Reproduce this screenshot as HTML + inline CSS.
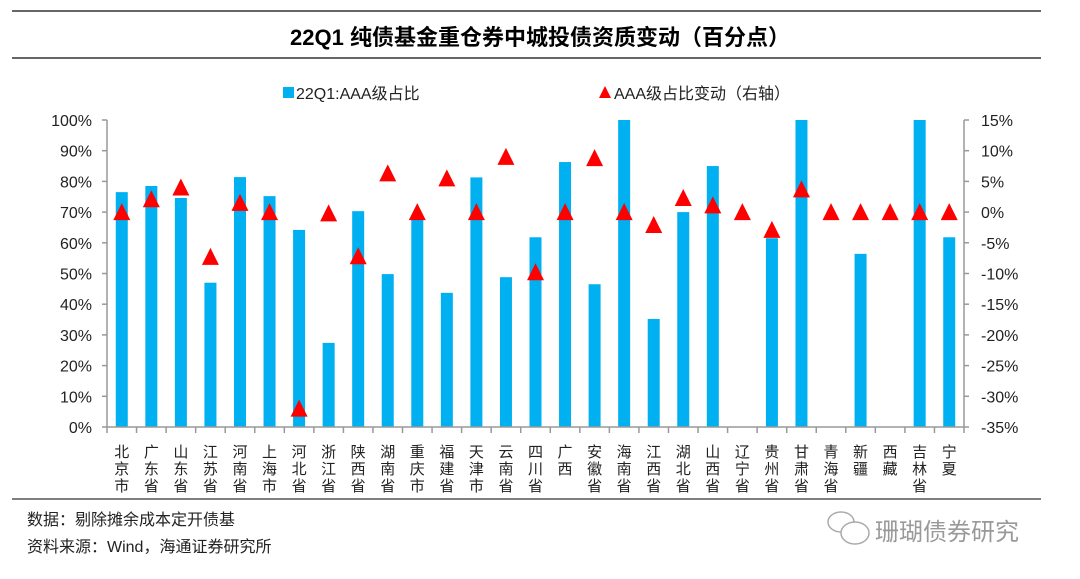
<!DOCTYPE html>
<html><head><meta charset="utf-8"><style>
html,body{margin:0;padding:0;background:#fff;}
svg{display:block;font-family:"Liberation Sans","Noto Sans CJK SC",sans-serif;}
</style></head><body>
<svg id="c" width="1080" height="579" viewBox="0 0 1080 579">
<line x1="12" y1="11" x2="1041" y2="11" stroke="#333" stroke-width="1.5"/>
<text x="540" y="45" text-anchor="middle" font-size="22" font-weight="bold" fill="#000">22Q1 纯债基金重仓券中城投债资质变动（百分点）</text>
<line x1="12" y1="58" x2="1041" y2="58" stroke="#333" stroke-width="1.5"/>
<g>
<rect x="283" y="87" width="11" height="11" fill="#00b0f0"/>
<text x="296" y="99" font-size="16" fill="#222">22Q1:AAA级占比</text>
<polygon points="605,86 611,98 599,98" fill="#ff0000"/>
<text x="614" y="99" font-size="16" fill="#222">AAA级占比变动（右轴）</text>
</g>
<g id="plot"></g>
<line x1="12" y1="499" x2="1041" y2="499" stroke="#555" stroke-width="1.5"/>
<text x="27" y="525" font-size="16" fill="#222">数据：剔除摊余成本定开债基</text>
<text x="27" y="552" font-size="16" fill="#222">资料来源：Wind，海通证券研究所</text>
<g fill="none" stroke="#aaa" stroke-width="1.5">
<ellipse cx="841" cy="522" rx="13" ry="10"/><ellipse cx="855" cy="533" rx="14" ry="11" fill="#fff"/>
</g>
<text x="875" y="540" font-size="24" fill="#999">珊瑚债券研究</text>
</svg>
<script>
const categories=["北京市","广东省","山东省","江苏省","河南省","上海市","河北省","浙江省","陕西省","湖南省","重庆市","福建省","天津市","云南省","四川省","广西","安徽省","海南省","江西省","湖北省","山西省","辽宁省","贵州省","甘肃省","青海省","新疆","西藏","吉林省","宁夏"];
const aaaShare=[76.5,78.5,74.6,47,81.4,75.2,64.2,27.4,70.3,49.8,68,43.7,81.3,48.8,61.8,86.3,46.5,100,35.2,70,85,0,61.5,100,0,56.4,0,100,61.8];
const aaaChange=[0,2.1,4,-7.3,1.5,0,-32,-0.2,-7.2,6.3,0,5.5,0,9,-9.8,0,8.8,0,-2.1,2.3,1.1,0,-2.9,3.7,0,0,0,0,0];
const leftTicks=["0%","10%","20%","30%","40%","50%","60%","70%","80%","90%","100%"];
const rightTicks=["-35%","-30%","-25%","-20%","-15%","-10%","-5%","0%","5%","10%","15%"];
const NS="http://www.w3.org/2000/svg";
const g=document.getElementById('plot');
const X0=107,X1=964,Y0=427,Y1=120;
const step=(X1-X0)/categories.length;
const xc=i=>X0+step*(i+0.5);
const yL=v=>Y0-(v/100)*(Y0-Y1);
const yR=v=>Y0-((v+35)/50)*(Y0-Y1);
function mk(t,a){const e=document.createElementNS(NS,t);for(const k in a)e.setAttribute(k,a[k]);g.appendChild(e);return e;}
// bars
aaaShare.forEach((v,i)=>{
 const e=mk('rect',{x:xc(i)-6,y:yL(v),width:12,height:Y0-yL(v),fill:'#00b0f0'});
 
 
});
// axes
let e=mk('line',{x1:X0,y1:Y1,x2:X0,y2:Y0,stroke:'#999','stroke-width':1.5});


e=mk('line',{x1:X1,y1:Y1,x2:X1,y2:Y0,stroke:'#999','stroke-width':1.5});


e=mk('line',{x1:X0,y1:Y0,x2:X1,y2:Y0,stroke:'#999','stroke-width':1.5});


leftTicks.forEach((t,i)=>{
 const y=yL(i*10);
 mk('line',{x1:X0-5,y1:y,x2:X0,y2:y,stroke:'#999','stroke-width':1.5});
 const tx=mk('text',{x:92,y:y+6,'text-anchor':'end','font-size':16,fill:'#222'});tx.textContent=t;
 
 
});
rightTicks.forEach((t,i)=>{
 const y=yR(-35+i*5);
 mk('line',{x1:X1,y1:y,x2:X1+5,y2:y,stroke:'#999','stroke-width':1.5});
 const tx=mk('text',{x:981,y:y+6,'font-size':16,fill:'#222'});tx.textContent=t;
 
 
});
for(let i=0;i<=categories.length;i++){const x=X0+step*i;mk('line',{x1:x,y1:Y0,x2:x,y2:Y0+6,stroke:'#999','stroke-width':1.5});}
categories.forEach((c,i)=>{
 const tx=mk('text',{'font-size':15,fill:'#222','text-anchor':'middle'});
 
 
 [...c].forEach((ch,j)=>{const s=document.createElementNS(NS,'tspan');s.setAttribute('x',xc(i));s.setAttribute('y',Y0+30+j*17);s.textContent=ch;tx.appendChild(s);});
});
// triangles
aaaChange.forEach((v,i)=>{
 const x=xc(i),y=yR(v);
 const p=mk('polygon',{points:`${x},${y-9} ${x+8.5},${y+8} ${x-8.5},${y+8}`,fill:'#ff0000'});
 
 
});
</script>
</body></html>
